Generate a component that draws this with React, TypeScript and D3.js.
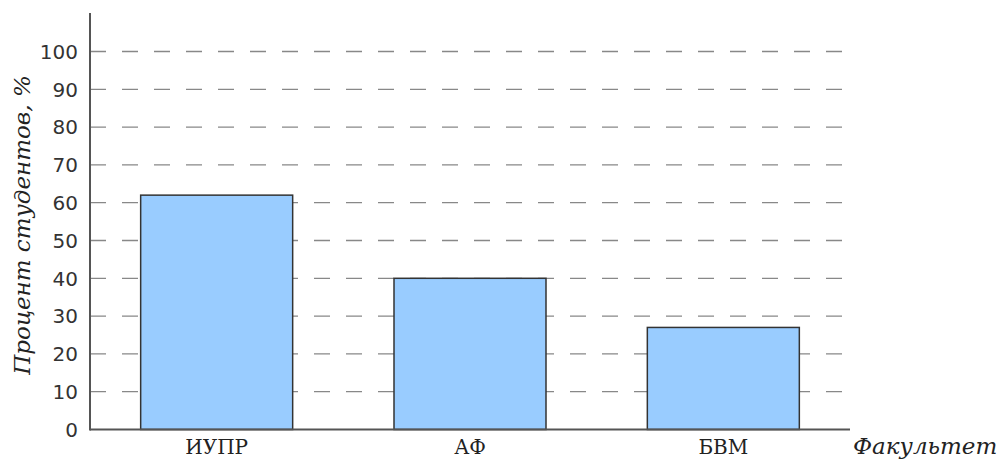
import React from "react";
import * as d3 from "d3";

const categories = ["ИУПР", "АФ", "БВМ"];
const values = [62, 40, 27];
const yTicks = [0, 10, 20, 30, 40, 50, 60, 70, 80, 90, 100];
const yLabel = "Процент студентов, %";
const xLabel = "Факультет";

const W = 1005;
const H = 460;
const x0 = 90;
const x1 = 850;
const yBottom = 429.5;
const yTop100 = 51.5;

export default function App() {
  const x = d3.scaleBand<string>().domain(categories).range([x0, x1]).paddingInner(0.4).paddingOuter(0.2);
  const y = d3.scaleLinear().domain([0, 100]).range([yBottom, yTop100]);
  return (
    <svg width={W} height={H} style={{ position: "absolute", left: 0, top: 0 }}>
      <rect x={0} y={0} width={W} height={H} fill="#fff" />
      {yTicks.filter((t) => t > 0).map((t) => (
        <line key={"g" + t} x1={x0} x2={843} y1={y(t)} y2={y(t)} stroke="#888" strokeWidth={1.3} strokeDasharray="16,16" />
      ))}
      {yTicks.map((t) => (
        <text key={"t" + t} x={78} y={y(t)} dy="0.36em" textAnchor="end" fontFamily="DejaVu Sans" fontSize={20} fill="#333">
          {t}
        </text>
      ))}
      {categories.map((c, i) => (
        <rect key={c} x={x(c)} y={y(values[i])} width={x.bandwidth()} height={yBottom - y(values[i])} fill="#99ccff" stroke="#333" strokeWidth={1.5} />
      ))}
      {categories.map((c) => (
        <text key={"c" + c} x={(x(c) as number) + x.bandwidth() / 2} y={454} textAnchor="middle" fontFamily="DejaVu Serif" fontSize={20} fill="#222">
          {c}
        </text>
      ))}
      <line x1={x0} x2={x0} y1={13} y2={yBottom + 1} stroke="#555" strokeWidth={2} />
      <line x1={x0} x2={x1} y1={yBottom} y2={yBottom} stroke="#555" strokeWidth={2} />
      <text x={853} y={454} fontFamily="DejaVu Serif" fontStyle="italic" fontSize={23} fill="#222">
        {xLabel}
      </text>
      <text transform={`translate(30, ${225}) rotate(-90)`} textAnchor="middle" fontFamily="DejaVu Serif" fontStyle="italic" fontSize={23} fill="#222">
        {yLabel}
      </text>
    </svg>
  );
}
